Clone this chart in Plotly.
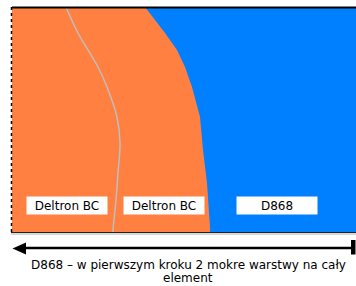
import plotly.graph_objects as go

# Boundary between the two coatings (orange = Deltron BC, blue = D868)
boundary_x = [133, 153, 165, 173, 180, 188, 191, 195, 198, 198]
boundary_y = [226, 200, 183, 166, 146, 116, 83, 50, 6, 0]

# Grey line between the two Deltron BC layers
divider_x = [54, 66, 86, 95, 105, 108, 106, 104, 101, 101]
divider_y = [226, 200, 166, 146, 116, 90, 60, 33, 3, 0]

labels = ["Deltron BC", "Deltron BC", "D868"]
label_x = [55, 151.5, 264.5]
label_y = [27.5, 27.5, 27.5]
caption = ["D868 \u2013 w pierwszym kroku 2 mokre warstwy na ca\u0142y", "element"]

X_MAX, Y_MAX = 344, 226
ORANGE = "#FF8040"
BLUE = "#0080FF"

fig = go.Figure()
fig.add_trace(go.Scatter(
    x=boundary_x + [X_MAX, X_MAX], y=boundary_y + [0, Y_MAX],
    fill="toself", fillcolor=BLUE, mode="lines",
    line=dict(width=0, color=BLUE), hoverinfo="skip", showlegend=False))
fig.add_trace(go.Scatter(
    x=divider_x, y=divider_y, mode="lines",
    line=dict(color="#BEBEBE", width=1.5, shape="spline"),
    hoverinfo="skip", showlegend=False))

W, H = 356, 286
ml, mr, mt, mb = 12, 0, 7, 53
pw, ph = W - ml - mr, H - mt - mb

def px(x):
    return (x - ml) / pw

def py(y):
    return (H - mb - y) / ph

LABEL_FONT = dict(family="DejaVu Sans, Verdana", size=12, color="black")
CAP_FONT = dict(family="DejaVu Sans, Verdana", size=12, color="black")
annotations = []
for t, x, y in zip(labels, label_x, label_y):
    annotations.append(dict(
        x=x, y=y, xref="x", yref="y", text=t, showarrow=False,
        xanchor="center", yanchor="middle",
        bgcolor="white", width=80, height=17, borderpad=0, font=LABEL_FONT))
annotations.append(dict(x=px(188), y=py(265), xref="paper", yref="paper",
                        xanchor="center", yanchor="middle",
                        text=caption[0], showarrow=False, font=CAP_FONT))
annotations.append(dict(x=px(188), y=py(277.5), xref="paper", yref="paper",
                        xanchor="center", yanchor="middle",
                        text=caption[1], showarrow=False, font=CAP_FONT))

shapes = [
    # top border
    dict(type="line", xref="paper", yref="paper", x0=0, x1=1, y0=py(7.5), y1=py(7.5),
         line=dict(color="black", width=2)),
    # left border (dotted)
    dict(type="line", xref="paper", yref="paper", x0=px(11.5), x1=px(11.5), y0=py(7), y1=py(233),
         line=dict(color="black", width=1.5, dash="dot")),
    # bottom border
    dict(type="line", xref="paper", yref="paper", x0=px(11), x1=1, y0=py(232.5), y1=py(232.5),
         line=dict(color="#222222", width=1)),
    dict(type="line", xref="paper", yref="paper", x0=px(11), x1=1, y0=py(234), y1=py(234),
         line=dict(color="#B0B0B0", width=1)),
    # arrow shaft
    dict(type="line", xref="paper", yref="paper", x0=px(22), x1=px(353), y0=py(248), y1=py(248),
         line=dict(color="black", width=2.5)),
    # arrow head
    dict(type="path", xref="paper", yref="paper",
         path=f"M {px(12.5)} {py(248.5)} L {px(26)} {py(242.5)} L {px(26)} {py(254.5)} Z",
         fillcolor="black", line=dict(color="black", width=0)),
    # end bar
    dict(type="rect", xref="paper", yref="paper", x0=px(351), x1=px(355.5), y0=py(240), y1=py(254.5),
         fillcolor="black", line=dict(width=0)),
]

fig.update_layout(
    width=W, height=H,
    margin=dict(l=ml, r=mr, t=mt, b=mb, pad=0),
    paper_bgcolor="white", plot_bgcolor=ORANGE,
    xaxis=dict(range=[0, X_MAX], visible=False, fixedrange=True),
    yaxis=dict(range=[0, Y_MAX], visible=False, fixedrange=True),
    annotations=annotations, shapes=shapes, showlegend=False,
)

fig.write_html("out.html", config={"displayModeBar": False},
               post_script="document.body.style.margin='0';document.body.style.overflow='hidden';")
